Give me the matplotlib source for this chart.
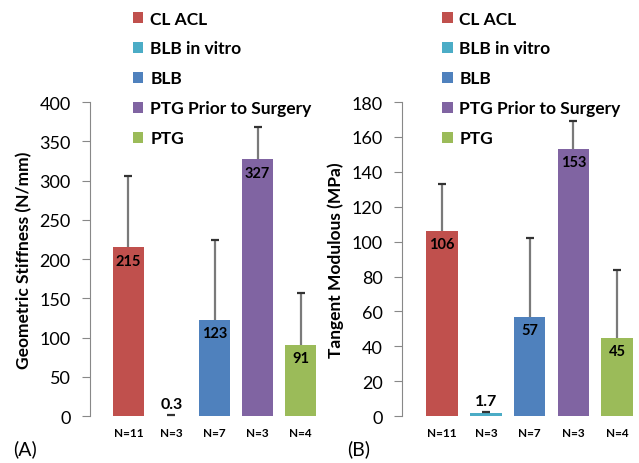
import matplotlib
matplotlib.use("Agg")
import matplotlib.pyplot as plt

groups = ['CL ACL', 'BLB in vitro', 'BLB', 'PTG Prior to Surgery', 'PTG']
colors = ['#C0504D', '#4BACC6', '#4F81BD', '#8064A2', '#9BBB59']
n_labels = ['N=11', 'N=3', 'N=7', 'N=3', 'N=4']

stiffness = [215, 0.3, 123, 327, 91]
stiffness_err = [91, 1, 101, 41, 66]
stiff_labels = ['215', '0.3', '123', '327', '91']

modulus = [106, 1.7, 57, 153, 45]
modulus_err = [27, 0.8, 45, 16, 39]
mod_labels = ['106', '1.7', '57', '153', '45']

plt.rcParams['font.family'] = ['Lato', 'DejaVu Sans']

fig = plt.figure(figsize=(6.39, 4.64), dpi=100)
axA = fig.add_axes([0.141, 0.101, 0.37, 0.677])
axB = fig.add_axes([0.629, 0.101, 0.371, 0.677])

x = list(range(len(groups)))


def panel(ax, vals, errs, labels, ylim, step, ylabel, xlim):
    for i in x:
        ax.bar(i, vals[i], width=0.72, color=colors[i], label=groups[i], zorder=2)
    # one-sided error bars: grey stem, dark cap on top only
    for i in x:
        top = vals[i] + errs[i]
        ax.vlines(i, vals[i], top, color='#7a7a7a', lw=1.6, zorder=3)
        ax.plot(i, top, marker='_', ms=6, mew=1.6, color='#333333', zorder=4)
    span = ylim[1]
    for i in x:
        if vals[i] < span * 0.05:
            ax.text(i, vals[i] + span * 0.015, labels[i], ha='center', va='bottom',
                    fontsize=11.5, fontweight='bold')
        else:
            ax.text(i, vals[i] - span * 0.02, labels[i], ha='center', va='top',
                    fontsize=10.5, fontweight='bold')
    ax.set_ylim(*ylim)
    ax.set_yticks(range(0, ylim[1] + 1, step))
    ax.set_xlim(*xlim)
    ax.set_xticks(x)
    ax.set_xticklabels(n_labels, fontsize=8.5, fontweight='bold')
    ax.tick_params(axis='x', length=0, pad=8)
    ax.tick_params(axis='y', labelsize=13, length=6, direction='out', color='#888888', pad=8)
    for s in ['top', 'right', 'bottom']:
        ax.spines[s].set_visible(False)
    ax.spines['left'].set_color('#888888')
    ax.set_ylabel(ylabel, fontsize=12.5, fontweight='bold', labelpad=5)


panel(axA, stiffness, stiffness_err, stiff_labels, (0, 400), 50,
      'Geometric Stiffness (N/mm)', (-0.89, 4.6))
panel(axB, modulus, modulus_err, mod_labels, (0, 180), 20,
      'Tangent Modulous (MPa)', (-0.92, 4.5))

for ax, xpos in [(axA, 0.197), (axB, 0.681)]:
    ax.legend(loc='upper left', bbox_to_anchor=(xpos, 0.99), bbox_transform=fig.transFigure,
              frameon=False, handlelength=0.6, handleheight=0.6, handletextpad=0.4,
              labelspacing=0.8, borderaxespad=0,
              prop={'weight': 'bold', 'size': 12.5})

fig.text(0.02, 0.032, '(A)', fontsize=14, va='center')
fig.text(0.543, 0.032, '(B)', fontsize=14, va='center')

fig.savefig('out.png', dpi=100)
